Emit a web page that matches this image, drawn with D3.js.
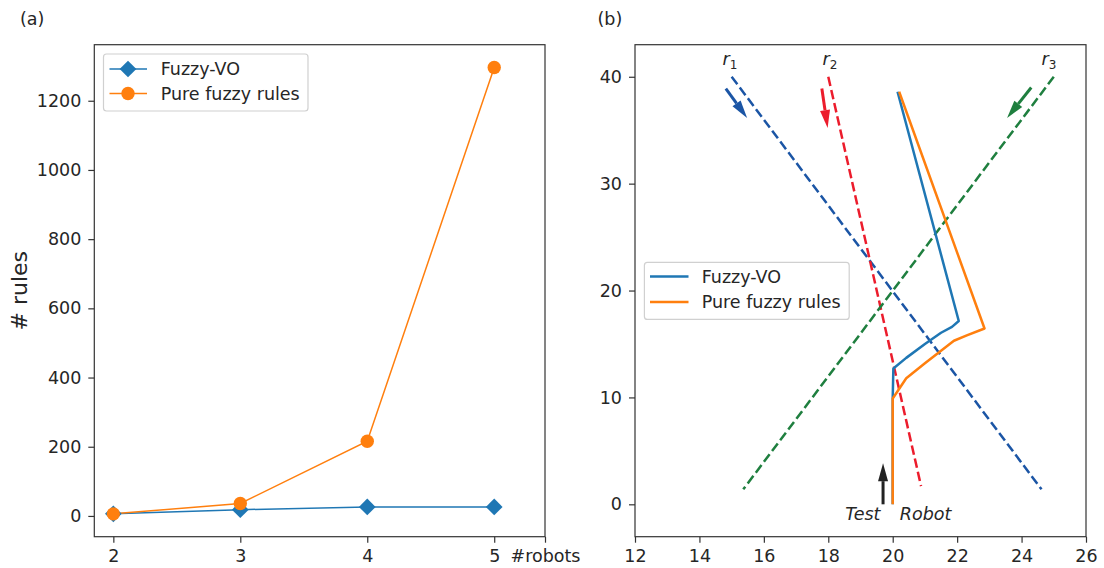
<!DOCTYPE html>
<html>
<head>
<meta charset="utf-8">
<script src="https://cdn.jsdelivr.net/npm/d3@7"></script>
<style>
  body { margin: 0; background: #fff; }
  text { font-family: "DejaVu Sans", sans-serif; fill: #262626; }
</style>
</head>
<body>
<div id="chart"></div>
<script>

// Part (a) data: number of rules vs number of robots
var robots = [2, 3, 4, 5];
var fuzzyVORules = [6, 18, 26, 26];
var pureFuzzyRules = [6, 36, 216, 1296];
var xTicksA = [2, 3, 4, 5, 5.4];
var xTickLabelsA = ["2", "3", "4", "5", "#robots"];
var yTicksA = [0, 200, 400, 600, 800, 1000, 1200];

// Part (b) data: trajectories
var fuzzyVOX = [20.0, 20.0, 20.02, 20.42, 21.0, 21.5, 21.84, 22.05, 20.15];
var fuzzyVOY = [0, 9.9, 12.7, 13.7, 15.0, 16.05, 16.6, 17.15, 38.6];
var pureX = [20.0, 20.0, 20.42, 21.0, 21.9, 22.3, 22.85, 20.2];
var pureY = [0, 9.9, 11.8, 13.2, 15.3, 15.8, 16.45, 38.6];

// other robots: dashed paths, start -> end
var otherNames = ["1", "2", "3"];
var otherStartX = [15, 18, 25];
var otherStartY = [40, 40, 40];
var otherEndX = [24.62, 20.88, 15.36];
var otherEndY = [1.4, 1.7, 1.4];
var otherColors = ["#1b55a5", "#ec1c2c", "#1f7f3f"];
var labelX = [14.95, 18.05, 24.85];
var labelY = [41.1, 41.1, 41.1];

// direction arrows: tail -> tip
var arrowTailX = [14.82, 17.8, 24.3, 19.7];
var arrowTailY = [38.9, 38.9, 39.0, 0];
var arrowTipX = [15.48, 17.98, 23.55, 19.7];
var arrowTipY = [36.15, 35.2, 36.15, 3.85];
var arrowColors = ["#1b55a5", "#ec1c2c", "#1f7f3f", "#222"];

var xTicksB = [12, 14, 16, 18, 20, 22, 24, 26];
var yTicksB = [0, 10, 20, 30, 40];

var blue = "#1f77b4";
var orange = "#ff7f0e";

var w = 1104;
var h = 568;
var fs = 17.5;

var svg = d3.select("#chart")
            .append("svg")
            .attr("width", w)
            .attr("height", h);

function drawAxes(g, x, y, xTicks, xLabels, yTicks) {
    var xAxis = d3.axisBottom(x).tickValues(xTicks).tickSize(6).tickPadding(7)
        .tickFormat(function(d, i) { return xLabels ? xLabels[i] : d3.format("d")(d); });
    var yAxis = d3.axisLeft(y).tickValues(yTicks).tickSize(6).tickPadding(7)
        .tickFormat(d3.format("d"));
    var gx = g.append("g").attr("transform", "translate(0," + y.range()[0] + ")").call(xAxis);
    var gy = g.append("g").attr("transform", "translate(" + x.range()[0] + ",0)").call(yAxis);
    [gx, gy].forEach(function(a) {
        a.select(".domain").remove();
        a.selectAll("line").attr("stroke", "#333").attr("stroke-width", 1.2);
        a.selectAll("text").attr("font-size", fs).attr("fill", "#262626")
         .attr("font-family", "DejaVu Sans, sans-serif");
    });
    // frame
    g.append("rect")
     .attr("x", x.range()[0]).attr("y", y.range()[1])
     .attr("width", x.range()[1] - x.range()[0])
     .attr("height", y.range()[0] - y.range()[1])
     .attr("fill", "none").attr("stroke", "#333").attr("stroke-width", 1.2);
}

function legendBox(g, x0, y0, bw, bh) {
    g.append("rect").attr("x", x0).attr("y", y0).attr("width", bw).attr("height", bh)
     .attr("rx", 3).attr("fill", "#fff").attr("fill-opacity", 0.8)
     .attr("stroke", "#d0d0d0").attr("stroke-width", 1.2);
}

// ---------- Part (a) ----------
var xA = d3.scaleLinear().domain([1.85, 5.4]).range([94.3, 545]);
var yA = d3.scaleLinear().domain([-60, 1362]).range([536.7, 44.7]);
var gA = svg.append("g");

drawAxes(gA, xA, yA, xTicksA, xTickLabelsA, yTicksA);

var lineA = d3.line()
    .x(function(d, i) { return xA(robots[i]); })
    .y(function(d) { return yA(d); });

gA.append("path").datum(fuzzyVORules).attr("d", lineA)
  .attr("fill", "none").attr("stroke", blue).attr("stroke-width", 1.5);
gA.append("path").datum(pureFuzzyRules).attr("d", lineA)
  .attr("fill", "none").attr("stroke", orange).attr("stroke-width", 1.5);

var diamond = d3.symbol().type(d3.symbolSquare).size(140);

gA.selectAll(".dia")
  .data(fuzzyVORules)
  .enter()
  .append("path")
  .attr("d", diamond)
  .attr("transform", function(d, i) {
      return "translate(" + xA(robots[i]) + "," + yA(d) + ") rotate(45)";
  })
  .attr("fill", blue);

gA.selectAll(".dot")
  .data(pureFuzzyRules)
  .enter()
  .append("circle")
  .attr("cx", function(d, i) { return xA(robots[i]); })
  .attr("cy", function(d) { return yA(d); })
  .attr("r", 6.7)
  .attr("fill", orange);

// legend (a)
legendBox(gA, 103.5, 54, 204.5, 57);
var legA = [["Fuzzy-VO", blue], ["Pure fuzzy rules", orange]];
legA.forEach(function(it, i) {
    var ly = 69 + i * 24.5;
    gA.append("line").attr("x1", 109.5).attr("x2", 147).attr("y1", ly).attr("y2", ly)
      .attr("stroke", it[1]).attr("stroke-width", 1.5);
    if (i == 0) {
        gA.append("path").attr("d", diamond)
          .attr("transform", "translate(128," + ly + ") rotate(45)").attr("fill", it[1]);
    } else {
        gA.append("circle").attr("cx", 128).attr("cy", ly).attr("r", 6.7).attr("fill", it[1]);
    }
    gA.append("text").attr("x", 160.7).attr("y", ly).attr("dy", "0.35em")
      .attr("font-size", fs).text(it[0]);
});

gA.append("text")
  .attr("transform", "translate(27," + 290.7 + ") rotate(-90)")
  .attr("text-anchor", "middle")
  .attr("font-size", 22)
  .text("# rules");

svg.append("text").attr("x", 20).attr("y", 25).attr("font-size", fs).text("(a)");

// ---------- Part (b) ----------
var xB = d3.scaleLinear().domain([12, 26]).range([635, 1086]);
var yB = d3.scaleLinear().domain([-3.03, 43]).range([536.7, 44.7]);
var gB = svg.append("g");

drawAxes(gB, xB, yB, xTicksB, null, yTicksB);

// dashed paths of other robots
gB.selectAll(".other")
  .data(otherNames)
  .enter()
  .append("line")
  .attr("x1", function(d, i) { return xB(otherStartX[i]); })
  .attr("y1", function(d, i) { return yB(otherStartY[i]); })
  .attr("x2", function(d, i) { return xB(otherEndX[i]); })
  .attr("y2", function(d, i) { return yB(otherEndY[i]); })
  .attr("stroke", function(d, i) { return otherColors[i]; })
  .attr("stroke-width", 2.5)
  .attr("stroke-dasharray", "9.5,4");

// trajectories
var lineB = d3.line()
    .x(function(d) { return xB(d[0]); })
    .y(function(d) { return yB(d[1]); });

gB.append("path").datum(d3.zip(fuzzyVOX, fuzzyVOY)).attr("d", lineB)
  .attr("fill", "none").attr("stroke", blue).attr("stroke-width", 2.5)
  .attr("stroke-linejoin", "round");
gB.append("path").datum(d3.zip(pureX, pureY)).attr("d", lineB)
  .attr("fill", "none").attr("stroke", orange).attr("stroke-width", 2.5)
  .attr("stroke-linejoin", "round");

// arrows
arrowTailX.forEach(function(tx, i) {
    var x1 = xB(tx), y1 = yB(arrowTailY[i]);
    var x2 = xB(arrowTipX[i]), y2 = yB(arrowTipY[i]);
    var len = Math.sqrt((x2 - x1) * (x2 - x1) + (y2 - y1) * (y2 - y1));
    var ux = (x2 - x1) / len, uy = (y2 - y1) / len;
    var hl = 18, hw = 5;
    var bx = x2 - ux * hl, by = y2 - uy * hl;
    gB.append("line").attr("x1", x1).attr("y1", y1).attr("x2", bx).attr("y2", by)
      .attr("stroke", arrowColors[i]).attr("stroke-width", 3);
    gB.append("path")
      .attr("d", "M" + x2 + "," + y2 +
                 "L" + (bx - uy * hw) + "," + (by + ux * hw) +
                 "L" + (bx + uy * hw) + "," + (by - ux * hw) + "Z")
      .attr("fill", arrowColors[i]);
});

// robot labels
otherNames.forEach(function(n, i) {
    var t = gB.append("text")
      .attr("x", xB(labelX[i])).attr("y", yB(labelY[i]))
      .attr("text-anchor", "middle").attr("font-size", fs);
    t.append("tspan").attr("font-style", "italic").text("r");
    t.append("tspan").attr("font-size", 12).attr("dy", 4).text(n);
});

gB.append("text").attr("x", xB(19.62)).attr("y", yB(-1.45))
  .attr("text-anchor", "end").attr("font-size", fs).attr("font-style", "italic").text("Test");
gB.append("text").attr("x", xB(20.22)).attr("y", yB(-1.45))
  .attr("font-size", fs).attr("font-style", "italic").text("Robot");

// legend (b)
legendBox(gB, 644.4, 262.4, 204.8, 57);
var legB = [["Fuzzy-VO", blue], ["Pure fuzzy rules", orange]];
legB.forEach(function(it, i) {
    var ly = 276.5 + i * 25.5;
    gB.append("line").attr("x1", 650).attr("x2", 688.5).attr("y1", ly).attr("y2", ly)
      .attr("stroke", it[1]).attr("stroke-width", 2.5);
    gB.append("text").attr("x", 701.7).attr("y", ly).attr("dy", "0.35em")
      .attr("font-size", fs).text(it[0]);
});

svg.append("text").attr("x", 597.5).attr("y", 25).attr("font-size", fs).text("(b)");

</script>
</body>
</html>
